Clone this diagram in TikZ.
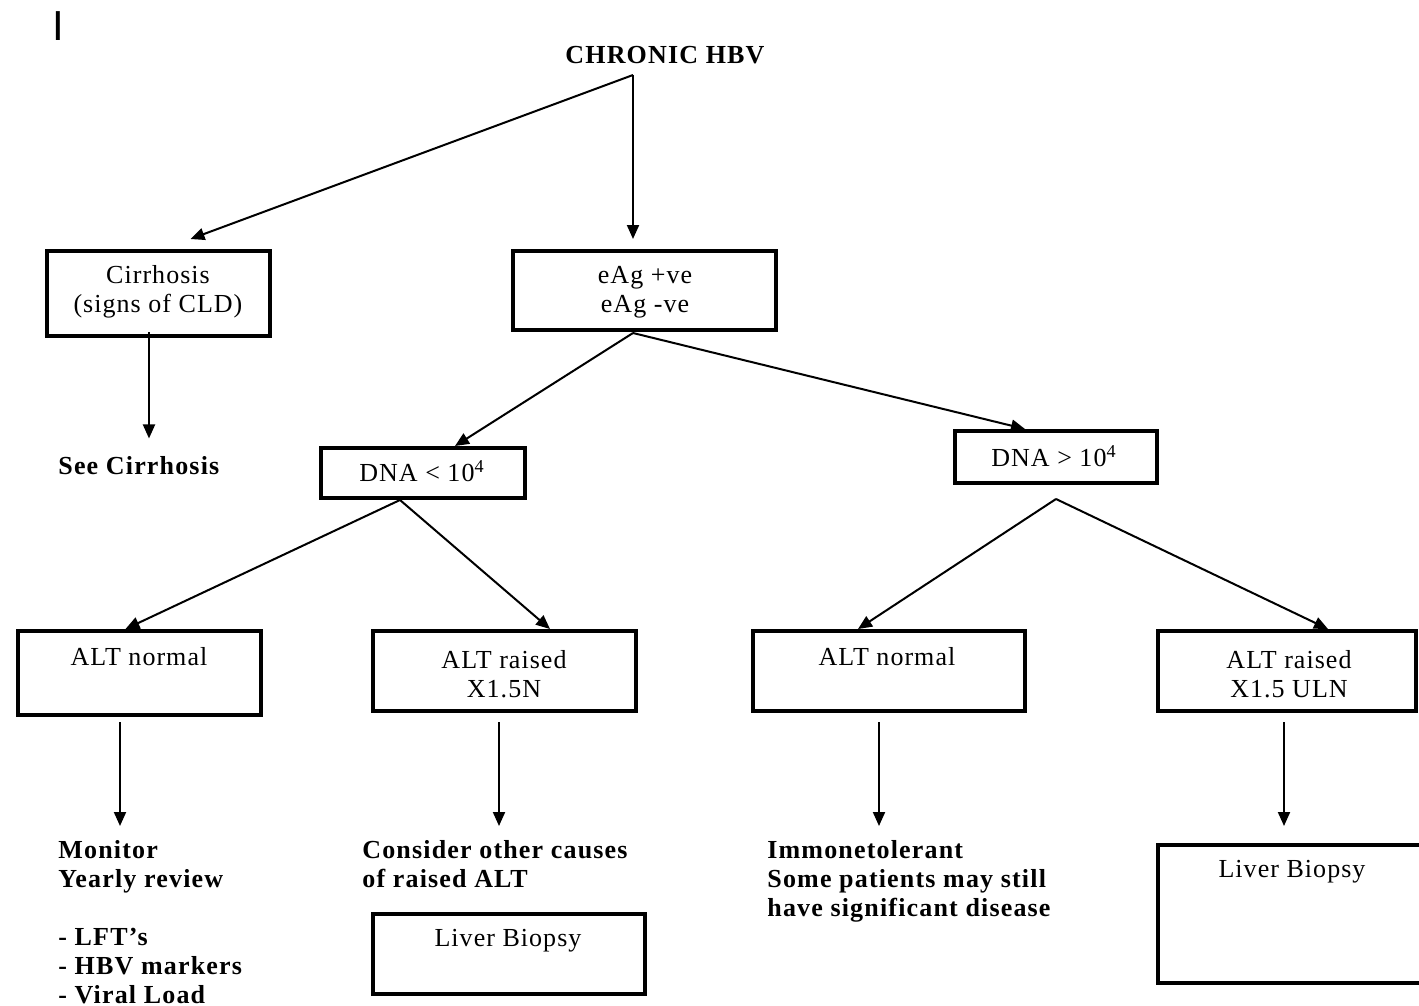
\documentclass[tikz,border=0pt]{standalone}
\usepackage{fontspec}
\setmainfont{Liberation Serif}[LetterSpace=4,BoldFeatures={LetterSpace=4.5}]
\newfontfamily\barfont{Liberation Sans}
\usetikzlibrary{arrows.meta,calc}

\begin{document}
\begin{tikzpicture}[x=0.5pt,y=-0.5pt,
  box/.style={draw,line width=2.2pt,inner sep=0pt,outer sep=0pt,anchor=north west},
  txt/.style={inner sep=0pt,font=\fontsize{13}{14.5}\selectfont,align=center},
  btxt/.style={inner sep=0pt,font=\fontsize{13}{14.5}\selectfont\bfseries,align=left},
  arr/.style={line width=1pt,-{Triangle[length=7pt,width=6pt]}}]
\useasboundingbox (0,0) rectangle (1419,1006);
\clip (0,0) rectangle (1419,1006);

% stray mark in the top-left corner
\node[inner sep=0pt,font=\barfont\fontsize{21}{21}\selectfont] (mark) at (58,26) {I};

% title
\node[txt,font=\fontsize{13}{14.5}\selectfont\bfseries] (hbv) at (665,55) {CHRONIC HBV};

% boxes
\node[box,minimum width=111.5pt,minimum height=42.5pt] (cirr) at (47,251) {};
\node[box,minimum width=131.5pt,minimum height=39.5pt] (eag)  at (513,251) {};
\node[box,minimum width=102pt,minimum height=25pt]     (dnaL) at (321,448) {};
\node[box,minimum width=101pt,minimum height=26pt]     (dnaH) at (955,431) {};
\node[box,minimum width=121.5pt,minimum height=42pt]   (altnL) at (18,631) {};
\node[box,minimum width=131.5pt,minimum height=40pt]   (altrL) at (373,631) {};
\node[box,minimum width=136pt,minimum height=40pt]     (altnH) at (753,631) {};
\node[box,minimum width=129pt,minimum height=40pt]     (altrH) at (1158,631) {};
\node[box,minimum width=136pt,minimum height=40pt]     (biopL) at (373,914) {};
\node[box,minimum width=141pt,minimum height=69pt]     (biopH) at (1158,845) {};

% box texts
\node[txt] (cirrT)  at (158,292) {Cirrhosis\\(signs of CLD)};
\node[txt] (eagT)   at (645,292) {eAg +ve\\eAg -ve};
\node[txt] (dnaLT)  at (422,471) {DNA < 10\textsuperscript{4}};
\node[txt] (dnaHT)  at (1054,456) {DNA > 10\textsuperscript{4}};
\node[txt] (altnLT) at (139,657) {ALT normal};
\node[txt] (altrLT) at (504,674) {ALT raised\\X1.5N};
\node[txt] (altnHT) at (887,657) {ALT normal};
\node[txt] (altrHT) at (1289,674) {ALT raised\\X1.5 ULN};
\node[txt] (biopLT) at (508,941) {Liver Biopsy};
\node[txt] (biopHT) at (1292,872) {Liver Biopsy};

% free-standing bold texts
\node[btxt,anchor=west] (seecirr) at (58,466) {See Cirrhosis};
\node[btxt,anchor=north west] (monitor) at (58,840)
  {Monitor\\Yearly review\\[14.5pt]- LFT’s\\- HBV markers\\- Viral Load};
\node[btxt,anchor=north west] (consider) at (362,840)
  {Consider other causes\\of raised ALT};
\node[btxt,anchor=north west] (immune) at (767,840)
  {Immonetolerant\\Some patients may still\\have significant disease};

% branching points
\coordinate (fork)    at (633,75);
\coordinate (eagout)  at ($(eag.south)+(-11.5,3)$);
\coordinate (dnaLout) at ($(dnaL.south)+(-23,2)$);
\coordinate (dnaHout) at ($(dnaH.south)+(0,16)$);

% connectors
\draw[arr] (fork) -- ($(cirr.north)+(32,-12)$);
\draw[arr] (fork) -- ($(fork |- eag.north)+(0,-12)$);
\draw[arr] ($(cirr.south)+(-9.5,-4)$) -- ($(cirr.south |- seecirr.north)+(-9.5,-18)$);

\draw[arr] (eagout) -- ($(dnaL.north)+(32,-2)$);
\draw[arr] (eagout) -- ($(dnaH.north)+(-31,-2)$);

\draw[arr] (dnaLout) -- ($(altnL.north)+(-14,-2)$);
\draw[arr] (dnaLout) -- ($(altrL.north)+(45.5,-2)$);
\draw[arr] (dnaHout) -- ($(altnH.north)+(-31,-2)$);
\draw[arr] (dnaHout) -- ($(altrH.north)+(41,-2)$);

\draw[arr] ($(altnL.south)+(-19.5,7)$) -- ($(altnL.south |- monitor.north)+(-19.5,-14)$);
\draw[arr] ($(altrL.south)+(-5.5,11)$) -- ($(altrL.south |- consider.north)+(-5.5,-14)$);
\draw[arr] ($(altnH.south)+(-10,11)$) -- ($(altnH.south |- immune.north)+(-10,-14)$);
\draw[arr] ($(altrH.south)+(-3,11)$) -- ($(altrH.south |- biopH.north)+(-3,-19)$);
\end{tikzpicture}
\end{document}
